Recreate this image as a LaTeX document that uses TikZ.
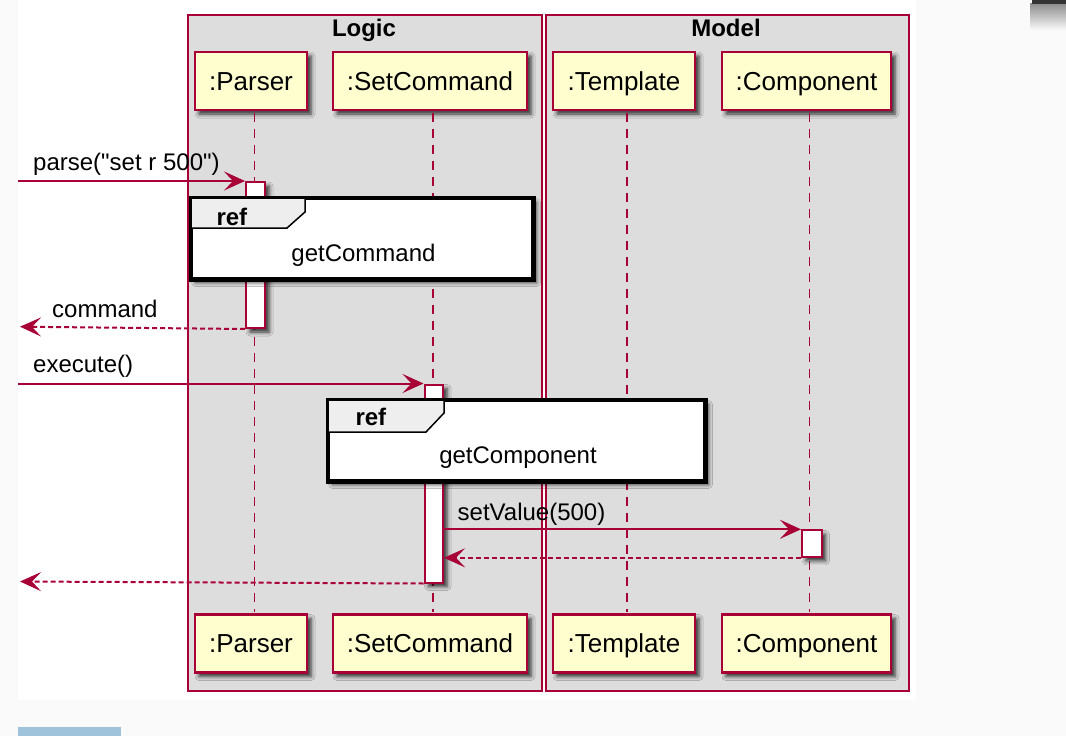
\documentclass[tikz,border=0pt]{standalone}
\usepackage{fontspec}
\setmainfont{Liberation Sans}[Ligatures=TeXOff]
\usetikzlibrary{arrows.meta,shadows.blur}

\definecolor{umlred}{HTML}{A80036}
\definecolor{partfill}{HTML}{FEFECE}
\definecolor{groupfill}{HTML}{DDDDDD}
\definecolor{tabfill}{HTML}{EEEEEE}
\definecolor{pagegray}{HTML}{FAFAFA}
\definecolor{stripblue}{HTML}{9FC3DB}

\begin{document}
\begin{tikzpicture}[x=1pt,y=-1pt,
  softshadow/.style={blur shadow={shadow xshift=4pt,shadow yshift=-4pt,
      shadow blur radius=4pt,shadow opacity=80}},
  groupbox/.style={draw=umlred,fill=groupfill,line width=1.5pt},
  grouptitle/.style={font=\bfseries\fontsize{24pt}{28pt}\selectfont,anchor=base},
  participant/.style={draw=umlred,fill=partfill,line width=2.5pt,softshadow,
      minimum height=58pt,inner sep=0pt,text height=18.6pt,text depth=0pt,
      font=\fontsize{26pt}{30pt}\selectfont},
  lifeline/.style={draw=umlred,line width=1.6pt,dash pattern=on 9pt off 7pt},
  activation/.style={draw=umlred,fill=white,line width=2pt,softshadow,
      anchor=north west,inner sep=0pt},
  refframe/.style={draw=black,fill=white,line width=3pt,softshadow,
      anchor=north west,inner sep=0pt},
  reftab/.style={draw=black,fill=tabfill,line width=1.5pt},
  reftext/.style={font=\fontsize{24pt}{28pt}\selectfont,anchor=base},
  refkey/.style={font=\bfseries\fontsize{24pt}{28pt}\selectfont,anchor=base west},
  msg/.style={draw=umlred,line width=2pt,
      -{Stealth[length=21pt,width=19pt,inset=9pt,fill=umlred]}},
  reply/.style={msg,dash pattern=on 5pt off 3pt},
  msglabel/.style={font=\fontsize{24pt}{28pt}\selectfont,anchor=base west,inner sep=0pt}
]
\useasboundingbox (0,0) rectangle (1066,736);

% page and canvas
\fill[pagegray] (0,0) rectangle (1066,736);
\fill[white] (18,0) rectangle (916,700);
\fill[stripblue] (18,727) rectangle (121,736);
\shade[top color=black!45,bottom color=pagegray] (1030,3) rectangle (1066,30);
\fill[black!80] (1032,0) rectangle (1066,4);

% package frames
\node[groupbox,anchor=north west,minimum width=354pt,minimum height=676pt,inner sep=0pt] (logic) at (187,14) {};
\node[groupbox,anchor=north west,minimum width=363pt,minimum height=676pt,inner sep=0pt] (model) at (545,14) {};
\node[grouptitle] (logicT) at (364,36.5) {Logic};
\node[grouptitle] (modelT) at (726,36.5) {Model};

% participants, top and bottom
\node[participant,minimum width=112pt] (pPt) at (251,81) {:Parser};
\node[participant,minimum width=194pt] (pSt) at (430,81) {:SetCommand};
\node[participant,minimum width=142pt] (pTt) at (624,81) {:Template};
\node[participant,minimum width=169pt] (pCt) at (806.5,81) {:Component};
\node[participant,minimum width=112pt] (pPb) at (251,643.5) {:Parser};
\node[participant,minimum width=194pt] (pSb) at (430,643.5) {:SetCommand};
\node[participant,minimum width=142pt] (pTb) at (624,643.5) {:Template};
\node[participant,minimum width=169pt] (pCb) at (806.5,643.5) {:Component};

% lifelines
\draw[lifeline] ([xshift=3.5pt,yshift=-1.5pt]pPt.south) -- ([xshift=3.5pt,yshift=1.5pt]pPb.north);
\draw[lifeline] ([xshift=3pt,yshift=-1.5pt]pSt.south) -- ([xshift=3pt,yshift=1.5pt]pSb.north);
\draw[lifeline] ([xshift=3pt,yshift=-1.5pt]pTt.south) -- ([xshift=3pt,yshift=1.5pt]pTb.north);
\draw[lifeline] ([xshift=3pt,yshift=-1.5pt]pCt.south) -- ([xshift=3pt,yshift=1.5pt]pCb.north);

% activations
\node[activation,minimum width=19pt,minimum height=146pt] (aP) at (245,181) {};
\node[activation,minimum width=18.5pt,minimum height=198pt] (aS) at (423.5,383.5) {};
\node[activation,minimum width=19.5pt,minimum height=26.5pt] (aC) at (801,529.3) {};

% ref: getCommand
\node[refframe,minimum width=341pt,minimum height=80pt] (refA) at (190,197) {};
\draw[reftab] (refA.north west) -- ++(115,0) -- ++(0,15) -- ++(-18,16) -- ++(-97,0) -- cycle;
\draw[black,line width=3pt] (refA.north west) rectangle (refA.south east);
\node[refkey] (refAk) at (213,225) {ref};
\node[reftext] (refAt) at (363.5,261) {getCommand};

% ref: getComponent
\node[refframe,minimum width=376pt,minimum height=80pt] (refB) at (327,399) {};
\draw[reftab] (refB.north west) -- ++(117,0) -- ++(0,14) -- ++(-18,19) -- ++(-99,0) -- cycle;
\draw[black,line width=3pt] (refB.north west) rectangle (refB.south east);
\node[refkey] (refBk) at (352,425.5) {ref};
\node[reftext] (refBt) at (518,463) {getComponent};

% free ends of the found / lost messages
\coordinate (inParse) at (18,181);
\coordinate (outCommand) at (20,326.7);
\coordinate (inExec) at (18,383.5);
\coordinate (outFinal) at (20,581.5);

% messages
\draw[msg] (inParse) -- (aP.north west);
\draw[reply] (aP.south west) -- (outCommand);
\draw[msg] (inExec) -- (aS.north west);
\draw[msg] (aC.north west -| aS.east) -- (aC.north west);
\draw[reply] (aC.south west) -- (aC.south west -| aS.east);
\draw[reply] (aS.south west) -- (outFinal);

% message labels
\node[msglabel] (lParse) at (33,170.5) {parse("set r 500")};
\node[msglabel] (lCommand) at (52,317) {command};
\node[msglabel] (lExec) at (33,372.5) {execute()};
\node[msglabel] (lSet) at (457.5,520) {setValue(500)};

\end{tikzpicture}
\end{document}
